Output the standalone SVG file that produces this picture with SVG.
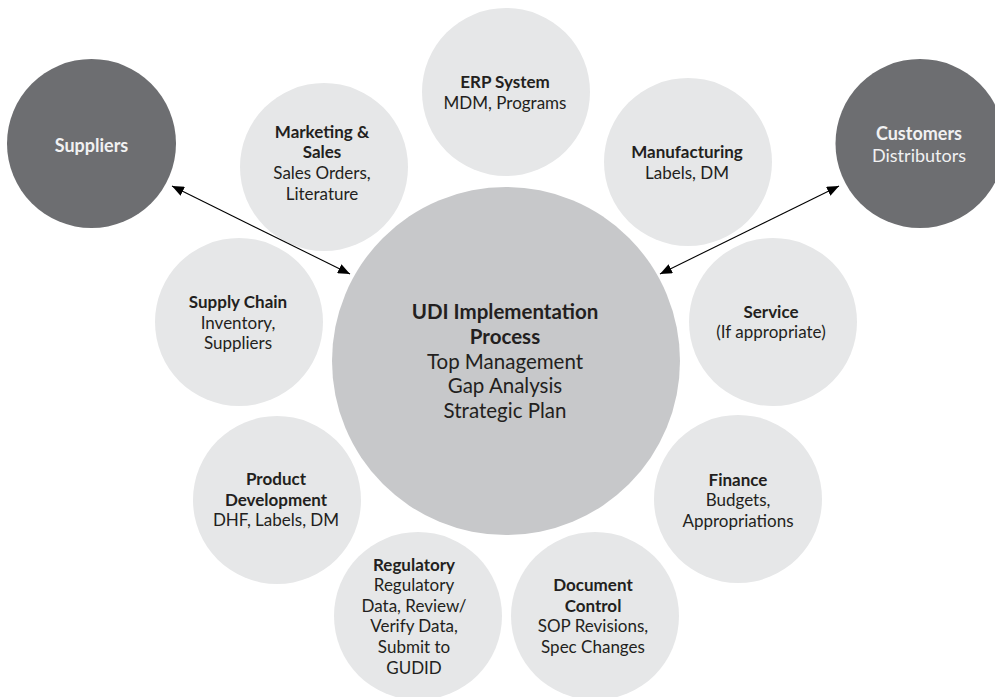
<svg xmlns="http://www.w3.org/2000/svg" width="995" height="697" viewBox="0 0 995 697">
  <defs>
    <marker id="arrow" viewBox="0 0 12 10" refX="12" refY="5" markerWidth="12" markerHeight="10" markerUnits="userSpaceOnUse" orient="auto-start-reverse">
      <path d="M0,0 L12,5 L0,10 Z" fill="#000"/>
    </marker>
    <style>
      .sat { fill: #e6e7e8; }
      .hub { fill: #c7c8ca; }
      .ext { fill: #6d6e71; }
      text { font-family: Lato, "Noto Sans", "Liberation Sans", sans-serif; font-size: 17px; fill: #231f20; text-anchor: middle; }
      .b { font-weight: bold; }
      .w { fill: #f1f1f2; font-size: 18px; }
      .big { font-size: 20.5px; }
      .link { stroke: #000; stroke-width: 1.1; fill: none; marker-start: url(#arrow); marker-end: url(#arrow); }
    </style>
  </defs>
  <rect width="995" height="697" fill="#fff"/>

  <!-- external parties -->
  <g id="suppliers">
    <circle class="ext" cx="91.5" cy="143.5" r="84.5"/>
    <text class="b w" x="91.5" y="152">Suppliers</text>
  </g>
  <g id="customers">
    <circle class="ext" cx="920" cy="143.5" r="84.5"/>
    <text class="b w" x="919" y="140">Customers</text>
    <text class="w" x="919" y="162">Distributors</text>
  </g>

  <!-- departments around the hub -->
  <g id="erp">
    <circle class="sat" cx="506" cy="92" r="84"/>
    <text class="b" x="505" y="88">ERP System</text>
    <text x="505" y="109">MDM, Programs</text>
  </g>
  <g id="marketing">
    <circle class="sat" cx="324" cy="167" r="84"/>
    <text class="b" x="322" y="138">Marketing &amp;</text>
    <text class="b" x="322" y="158">Sales</text>
    <text x="322" y="179">Sales Orders,</text>
    <text x="322" y="200">Literature</text>
  </g>
  <g id="manufacturing">
    <circle class="sat" cx="688" cy="162" r="84"/>
    <text class="b" x="687" y="158">Manufacturing</text>
    <text x="687" y="179">Labels, DM</text>
  </g>
  <g id="service">
    <circle class="sat" cx="773" cy="322" r="84"/>
    <text class="b" x="771" y="318">Service</text>
    <text x="771" y="338">(If appropriate)</text>
  </g>
  <g id="supply-chain">
    <circle class="sat" cx="239" cy="322" r="84"/>
    <text class="b" x="238" y="308">Supply Chain</text>
    <text x="238" y="329">Inventory,</text>
    <text x="238" y="349">Suppliers</text>
  </g>
  <g id="product-development">
    <circle class="sat" cx="277" cy="500" r="84"/>
    <text class="b" x="276" y="485">Product</text>
    <text class="b" x="276" y="506">Development</text>
    <text x="276" y="526">DHF, Labels, DM</text>
  </g>
  <g id="finance">
    <circle class="sat" cx="738" cy="499" r="84"/>
    <text class="b" x="738" y="486">Finance</text>
    <text x="738" y="506">Budgets,</text>
    <text x="738" y="527">Appropriations</text>
  </g>
  <g id="regulatory">
    <circle class="sat" cx="418" cy="616" r="84"/>
    <text class="b" x="414" y="571">Regulatory</text>
    <text x="414" y="591">Regulatory</text>
    <text x="414" y="612">Data, Review/</text>
    <text x="414" y="632">Verify Data,</text>
    <text x="414" y="653">Submit to</text>
    <text x="414" y="674">GUDID</text>
  </g>
  <g id="document-control">
    <circle class="sat" cx="595" cy="616" r="84"/>
    <text class="b" x="593" y="591">Document</text>
    <text class="b" x="593" y="612">Control</text>
    <text x="593" y="632">SOP Revisions,</text>
    <text x="593" y="653">Spec Changes</text>
  </g>

  <!-- central process -->
  <g id="udi-process">
    <circle class="hub" cx="506" cy="361" r="174"/>
    <text class="b big" x="505" y="319">UDI Implementation</text>
    <text class="b big" x="505" y="344">Process</text>
    <text class="big" x="505" y="369">Top Management</text>
    <text class="big" x="505" y="393">Gap Analysis</text>
    <text class="big" x="505" y="418">Strategic Plan</text>
  </g>

  <!-- two-way links to the outside parties -->
  <g id="connectors">
    <line class="link" x1="172" y1="186" x2="350" y2="274"/>
    <line class="link" x1="839" y1="186" x2="660" y2="274"/>
  </g>
</svg>
